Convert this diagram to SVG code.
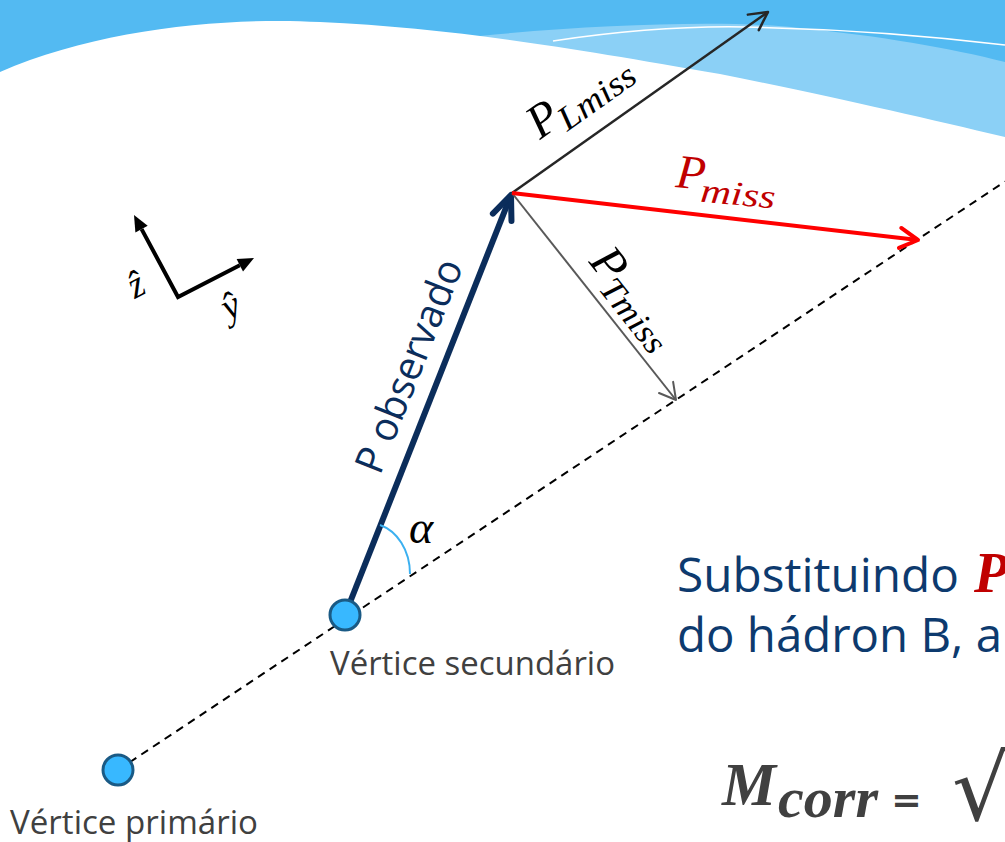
<svg xmlns="http://www.w3.org/2000/svg" width="1005" height="842" viewBox="0 0 1005 842">
<defs>
<style>
.sans{font-family:"Open Sans","Noto Sans","DejaVu Sans",sans-serif}
.math{font-family:"Liberation Serif","DejaVu Serif",serif;font-style:italic}
.vlabel{font-size:33px;fill:#404040}
.vertex{fill:#38B8FF;stroke:#1A5A85;stroke-width:3}
</style>
<marker id="hNavy" markerUnits="userSpaceOnUse" orient="auto" refX="0" refY="0" markerWidth="10" markerHeight="10" overflow="visible"><path d="M-24,-10 L0,0 L-24,10" fill="none" stroke="#0B2D5B" stroke-width="6" stroke-linecap="round" stroke-linejoin="round"/></marker>
<marker id="hDark" markerUnits="userSpaceOnUse" orient="auto" refX="0" refY="0" markerWidth="10" markerHeight="10" overflow="visible"><path d="M-18,-9.5 L0,0 L-18,9.5" fill="none" stroke="#262626" stroke-width="2.5" stroke-linecap="round" stroke-linejoin="round"/></marker>
<marker id="hRed" markerUnits="userSpaceOnUse" orient="auto" refX="0" refY="0" markerWidth="10" markerHeight="10" overflow="visible"><path d="M-18,-10 L0,0 L-18,10" fill="none" stroke="#FF0000" stroke-width="4" stroke-linecap="round" stroke-linejoin="round"/></marker>
<marker id="hGray" markerUnits="userSpaceOnUse" orient="auto" refX="0" refY="0" markerWidth="10" markerHeight="10" overflow="visible"><path d="M-16,-9 L0,0 L-16,9" fill="none" stroke="#595959" stroke-width="2" stroke-linecap="round" stroke-linejoin="round"/></marker>
</defs>
<rect x="0" y="0" width="1005" height="842" fill="#ffffff"/>
<g id="background">
<rect x="0" y="0" width="1005" height="160" fill="#53BAF2"/>
<path d="M480,36 C600,24 730,20 800,28 C880,36 950,48 1005,62 L1005,150 L480,50 Z" fill="#8BD0F6"/>
<path d="M553,41 C620,31 690,26 745,27 C850,29 940,37 1005,45" fill="none" stroke="#ffffff" stroke-width="1.5"/>
<path d="M0,72 C100,28 230,17 320,22 C450,28 560,46 720,74 C830,96 920,117 1005,137 L1005,842 L0,842 Z" fill="#ffffff"/>
</g>
<g id="axes">
<path d="M141.6,229.1 L178,297 L239.8,265.3" fill="none" stroke="#000" stroke-width="4" stroke-linejoin="miter"/>
<polygon points="134,215 147.7,225.8 135.4,232.4" fill="#000"/>
<polygon points="254,258 243,271.5 236.6,259.1" fill="#000"/>
<text class="math" x="136" y="297" font-size="38" text-anchor="middle" transform="rotate(-27 136 285)">ẑ</text>
<text class="math" x="231" y="318" font-size="38" text-anchor="middle" transform="rotate(-27 231 307)">ŷ</text>
</g>
<g id="connectors">
<path d="M118,770 L1005,181.5" fill="none" stroke="#000" stroke-width="2" stroke-dasharray="8,6"/>
<path id="p-obs" d="M345,615 L511,195" fill="none" stroke="#0B2D5B" stroke-width="6" marker-end="url(#hNavy)"/>
<path id="p-lmiss" d="M512,193 L768,12" fill="none" stroke="#262626" stroke-width="2.5" marker-end="url(#hDark)"/>
<path id="p-tmiss" d="M512,193 L676,400" fill="none" stroke="#595959" stroke-width="2" marker-end="url(#hGray)"/>
<path id="p-miss" d="M512,193 L918,240" fill="none" stroke="#FF0000" stroke-width="4" marker-end="url(#hRed)"/>
<path id="alpha-arc" d="M380,525 C397,531 410,550 410,574" fill="none" stroke="#3BB0F0" stroke-width="2"/>
</g>
<g id="label-pobs">
<text class="sans" x="380" y="476" font-size="40" fill="#0B2D5B" textLength="226" lengthAdjust="spacingAndGlyphs" transform="rotate(-68.3 380 476)">P observado</text>
</g>
<g id="label-plmiss" transform="translate(540 140) rotate(-35.3)">
<text class="math" x="0" y="0" font-size="48" fill="#000">P</text>
<text class="math" x="27" y="9" font-size="34" fill="#000" textLength="88" lengthAdjust="spacingAndGlyphs">Lmiss</text>
</g>
<g id="label-pmiss" transform="translate(675 187) rotate(5.5)">
<text class="math" x="0" y="0" font-size="48" fill="#C00000">P</text>
<text class="math" x="26" y="12" font-size="34" fill="#C00000" textLength="75" lengthAdjust="spacingAndGlyphs">miss</text>
</g>
<g id="label-ptmiss" transform="translate(588 262) rotate(51.7)">
<text class="math" x="0" y="0" font-size="48" fill="#000">P</text>
<text class="math" x="27" y="9" font-size="34" fill="#000" textLength="86" lengthAdjust="spacingAndGlyphs">Tmiss</text>
</g>
<g id="label-alpha">
<text class="math" x="409" y="543" font-size="46" fill="#000">α</text>
</g>
<g id="vertex-secundario">
<circle class="vertex" cx="345" cy="615" r="15"/>
<text class="sans vlabel" x="330" y="675" textLength="285" lengthAdjust="spacingAndGlyphs">Vértice secundário</text>
</g>
<g id="vertex-primario">
<circle class="vertex" cx="118" cy="770" r="15"/>
<text class="sans vlabel" x="10" y="834" textLength="248" lengthAdjust="spacingAndGlyphs">Vértice primário</text>
</g>
<g id="text-block">
<text class="sans" x="677" y="592" font-size="48" fill="#0D3A6E" textLength="282" lengthAdjust="spacingAndGlyphs">Substituindo</text>
<text x="974" y="592" font-size="56" fill="#C00000" font-family="Liberation Serif, DejaVu Serif, serif" font-weight="bold" font-style="italic">P</text>
<text class="sans" x="677" y="652" font-size="48" fill="#0D3A6E" textLength="325" lengthAdjust="spacingAndGlyphs">do hádron B, a</text>
</g>
<g id="formula" fill="#404040">
<text x="722" y="805" font-size="62" font-family="Liberation Serif, DejaVu Serif, serif" font-weight="bold" font-style="italic" textLength="54" lengthAdjust="spacingAndGlyphs">M</text>
<text x="778" y="817" font-size="58" font-family="Liberation Serif, DejaVu Serif, serif" font-weight="bold" font-style="italic" textLength="100" lengthAdjust="spacingAndGlyphs">corr</text>
<text x="893" y="815" font-size="40" font-family="Open Sans, sans-serif" font-weight="bold" textLength="27" lengthAdjust="spacingAndGlyphs">=</text>
<text x="952" y="820" font-size="90" font-family="DejaVu Sans, sans-serif">√</text>
</g>
</svg>
